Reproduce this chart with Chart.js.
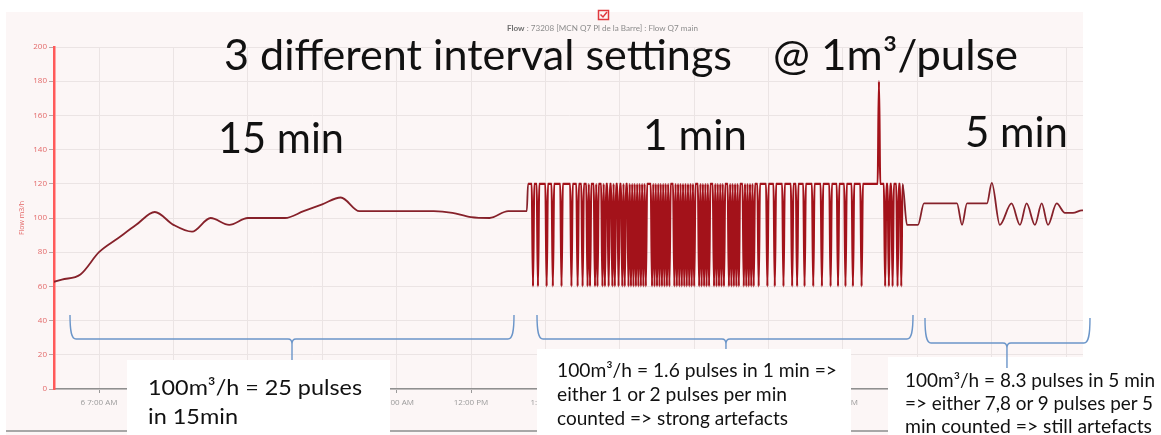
<!DOCTYPE html>
<html><head><meta charset="utf-8">
<script src="https://cdn.jsdelivr.net/npm/chart.js@4.4.1/dist/chart.umd.min.js"></script>
<style>
html,body{margin:0;padding:0;background:#fff;}
#wrap{position:relative;width:1161px;height:435px;overflow:hidden;}
#c{position:absolute;left:0;top:0;}
#t{position:absolute;left:0;top:0;pointer-events:none;}
</style></head><body>
<div id="wrap">
<canvas id="c" width="1161" height="435"></canvas>
<svg id="t" width="1161" height="435" xmlns="http://www.w3.org/2000/svg" font-family="Lato, 'Noto Sans', sans-serif" fill="#111">
  <text x="507" y="31" font-size="7.5" fill="#8c8c8c" textLength="191" lengthAdjust="spacingAndGlyphs"><tspan font-weight="bold" fill="#6e6e6e">Flow</tspan> : 73208 [MCN Q7 Pl de la Barre] : Flow Q7 main</text>
  <text x="224" y="70" font-size="42" textLength="508" lengthAdjust="spacingAndGlyphs">3 different interval settings</text>
  <text x="773" y="70" font-size="42" textLength="245" lengthAdjust="spacingAndGlyphs">@ 1m³/pulse</text>
  <text x="218" y="153" font-size="42" textLength="126" lengthAdjust="spacingAndGlyphs">15 min</text>
  <text x="643" y="150" font-size="42" textLength="104" lengthAdjust="spacingAndGlyphs">1 min</text>
  <text x="965" y="147" font-size="42" textLength="103" lengthAdjust="spacingAndGlyphs">5 min</text>
  <text x="148" y="395" font-size="22" textLength="214" lengthAdjust="spacingAndGlyphs">100m³/h = 25 pulses</text>
  <text x="148" y="424" font-size="22" textLength="90" lengthAdjust="spacingAndGlyphs">in 15min</text>
  <text x="557" y="377" font-size="19" textLength="280" lengthAdjust="spacingAndGlyphs">100m³/h = 1.6 pulses in 1 min =&gt;</text>
  <text x="557" y="401" font-size="19" textLength="230" lengthAdjust="spacingAndGlyphs">either 1 or 2 pulses per min</text>
  <text x="557" y="425" font-size="19" textLength="231" lengthAdjust="spacingAndGlyphs">counted =&gt; strong artefacts</text>
  <text x="905" y="387" font-size="18.5" textLength="250" lengthAdjust="spacingAndGlyphs">100m³/h = 8.3 pulses in 5 min</text>
  <text x="905" y="410" font-size="18.5" textLength="248" lengthAdjust="spacingAndGlyphs">=&gt; either 7,8 or 9 pulses per 5</text>
  <text x="905" y="433" font-size="18.5" textLength="247" lengthAdjust="spacingAndGlyphs">min counted =&gt; still artefacts</text>
</svg>
</div>
<script>
// ---- data (hours of day, flow in m3/h) ----
const quarterHourTimes = [6.25, 6.5, 6.75, 7.0, 7.25, 7.5, 7.75, 8.0, 8.25, 8.5, 8.75, 9.0, 9.25, 9.5, 9.75, 10.0, 10.25, 10.5, 10.75, 11.0, 11.25, 11.5, 11.75, 12.0, 12.25, 12.5, 12.75];
const quarterHourFlow  = [61, 64, 67, 80, 88, 96, 103.5, 96, 92, 100, 96, 100, 100, 100, 104, 108, 112, 104, 104, 104, 104, 104, 103, 100.5, 100, 104, 104];

const oneMinuteStart = 12 + 46 / 60; // first 1-min sample (12:46)
const oneMinuteFlow = [
  120,120,120,120,60,120,120,120,60,120,
  120,120,120,120,120,60,120,120,120,120,
  60,120,120,120,120,120,120,60,120,120,
  120,120,120,120,120,60,120,120,120,120,
  60,120,120,120,60,120,120,120,60,120,
  60,120,120,120,60,120,60,120,120,120,
  60,120,60,120,120,60,120,120,60,120,
  60,120,120,60,120,120,60,120,60,120,
  120,60,120,60,120,60,120,60,120,60,
  120,60,120,60,120,60,120,120,120,120,
  60,120,60,120,60,120,60,120,60,120,
  60,120,60,120,60,120,120,120,60,120,
  60,120,60,120,60,120,60,120,60,120,
  60,120,60,120,60,120,120,120,60,120,
  60,120,60,120,60,120,60,120,120,120,
  60,120,60,120,60,120,60,120,60,120,
  120,120,60,120,60,120,60,120,60,120,
  60,120,120,120,60,120,60,120,60,120,
  60,120,60,120,120,120,60,120,120,120,
  120,120,120,60,120,120,120,120,120,60,
  120,120,120,120,120,120,60,120,120,120,
  120,120,120,60,120,120,120,60,120,120,
  120,120,120,60,120,120,120,120,120,120,
  60,120,120,120,120,120,120,60,120,120,
  120,120,120,120,60,120,120,120,120,120,
  60,120,120,120,120,120,60,120,120,120,
  120,120,60,120,120,120,120,120,120,60,
  120,120,120,120,120,120,120,120,120,120,
  120,120,120,180,120,120,120,120,60,120,
  120,60,120,120,60,120,120,120,60,120,
  120,60,120
];

const fiveMinuteTimes = [17.86, 18.008, 18.089, 18.532, 18.6, 18.667, 18.935, 19.0, 19.108, 19.265, 19.379, 19.468, 19.58, 19.671, 19.755, 19.872, 19.984, 20.091, 20.212, 20.347];
const fiveMinuteFlow  = [96, 96, 108.5, 108.5, 96, 108.5, 108.5, 120.5, 96, 108.5, 96, 108.5, 96, 108.5, 96, 108.5, 103, 103, 104.5, 104];

const xTickHours  = [7, 8, 9, 10, 11, 12, 13, 14, 15, 16, 17, 18, 19, 20];
const xTickLabels = ['6 7:00 AM', '8:00 AM', '9:00 AM', '10:00 AM', '11:00 AM', '12:00 PM', '1:00 PM', '2:00 PM', '3:00 PM', '4:00 PM', '5:00 PM', '6:00 PM', '7:00 PM', '8:00 PM'];

// ---- annotation layout (brace spans in data units) ----
const braceMarks = [
  {from: 6.61,   to: 12.578, mid: 9.594,  top: 43.3, bar: 29.2, tip: 17},
  {from: 12.887, to: 17.941, mid: 15.427, top: 43.3, bar: 29.2, tip: 23.4},
  {from: 18.102, to: 20.32,  mid: 19.204, top: 41.5, bar: 26.9, tip: 12.3}
];

const flowPoints = [];
quarterHourTimes.forEach((t, i) => flowPoints.push({x: t, y: quarterHourFlow[i]}));
oneMinuteFlow.forEach((v, i) => flowPoints.push({x: oneMinuteStart + i / 60, y: v}));
fiveMinuteTimes.forEach((t, i) => flowPoints.push({x: t, y: fiveMinuteFlow[i]}));
const oneMinuteEnd = oneMinuteStart + (oneMinuteFlow.length - 1) / 60;
const inOneMinute = ctx => ctx.p0.parsed.x >= oneMinuteStart - 0.001 && ctx.p1.parsed.x <= oneMinuteEnd + 0.001;

function drawBrace(ctx, xs, ys, b) {
  const xl = xs.getPixelForValue(b.from), xr = xs.getPixelForValue(b.to), xc = xs.getPixelForValue(b.mid);
  const yt = ys.getPixelForValue(b.top), yb = ys.getPixelForValue(b.bar), yp = ys.getPixelForValue(b.tip);
  ctx.beginPath();
  ctx.moveTo(xl, yt);
  ctx.bezierCurveTo(xl, yt + (yb - yt) * 0.7, xl + 1.5, yb, xl + 6, yb);
  ctx.lineTo(xc - 4, yb);
  ctx.quadraticCurveTo(xc, yb, xc, yb + 5);
  ctx.lineTo(xc, yp);
  ctx.moveTo(xc, yb + 5);
  ctx.quadraticCurveTo(xc, yb, xc + 4, yb);
  ctx.lineTo(xr - 6, yb);
  ctx.bezierCurveTo(xr - 1.5, yb, xr, yt + (yb - yt) * 0.7, xr, yt);
  ctx.stroke();
}

const decor = {
  id: 'decor',
  beforeDraw(chart) {
    const c = chart.ctx;
    c.save();
    c.fillStyle = '#fcf6f6';
    c.fillRect(6, 12, 1077, 423);
    c.restore();
  },
  afterDraw(chart) {
    const c = chart.ctx, xs = chart.scales.x, ys = chart.scales.y;
    c.save();
    c.strokeStyle = '#8d8d8d'; c.lineWidth = 1.5;
    c.beginPath(); c.moveTo(6, 431); c.lineTo(1083, 431); c.stroke();
    c.fillStyle = '#ffffff';
    c.fillRect(127, 360, 263, 75);
    c.fillRect(537, 349, 314, 86);
    c.fillRect(888, 357, 273, 78);
    c.strokeStyle = '#6b95c9'; c.lineWidth = 1.4;
    braceMarks.forEach(b => drawBrace(c, xs, ys, b));
    c.strokeStyle = '#e0393e'; c.lineWidth = 1.5;
    c.strokeRect(598.5, 10.5, 10, 9);
    c.beginPath(); c.moveTo(600.5, 14.5); c.lineTo(603, 17); c.lineTo(607, 12); c.stroke();
    c.restore();
  }
};

new Chart(document.getElementById('c'), {
  type: 'line',
  data: {
    datasets: [{
      label: 'Flow Q7 main',
      data: flowPoints,
      borderColor: '#86212a',
      borderWidth: 1.8,
      pointRadius: 0,
      cubicInterpolationMode: 'monotone',
      fill: false,
      segment: {
        borderColor: ctx => inOneMinute(ctx) ? '#a3121a' : undefined,
        borderWidth: ctx => inOneMinute(ctx) ? 2.2 : undefined
      }
    }]
  },
  options: {
    responsive: false,
    animation: false,
    devicePixelRatio: 1,
    layout: {padding: {left: 16, right: 78, top: 47, bottom: 0}},
    plugins: {legend: {display: false}, title: {display: false}, tooltip: {enabled: false}},
    scales: {
      x: {
        type: 'linear', min: 6.395, max: 20.226,
        afterBuildTicks: s => { s.ticks = xTickHours.map(v => ({value: v})); },
        afterFit: s => { s.height = 46; },
        ticks: {
          autoSkip: false, maxRotation: 0, padding: 5,
          font: {size: 8, family: "'Open Sans', sans-serif"}, color: '#9a9a9a',
          callback: v => { const k = xTickHours.indexOf(v); return k >= 0 ? xTickLabels[k] : ''; }
        },
        grid: {color: '#ebe4e4', lineWidth: 1, tickLength: 4, tickColor: '#9a9a9a'},
        border: {color: '#8f8f8f', width: 1.5}
      },
      y: {
        min: 0, max: 200,
        afterFit: s => { s.width = 38; },
        ticks: {stepSize: 20, padding: 2, font: {size: 8, family: "'Open Sans', sans-serif"}, color: '#e36a6a'},
        grid: {color: '#ebe4e4', lineWidth: 1, tickLength: 5, tickColor: '#b9a9a9'},
        border: {color: '#ff5a5a', width: 2.5},
        title: {display: true, text: 'Flow m3/h', color: '#e36a6a', font: {size: 7, family: "'Open Sans', sans-serif"}, padding: {top: 2, bottom: 0}}
      }
    }
  },
  plugins: [decor]
});
</script>
</body></html>
